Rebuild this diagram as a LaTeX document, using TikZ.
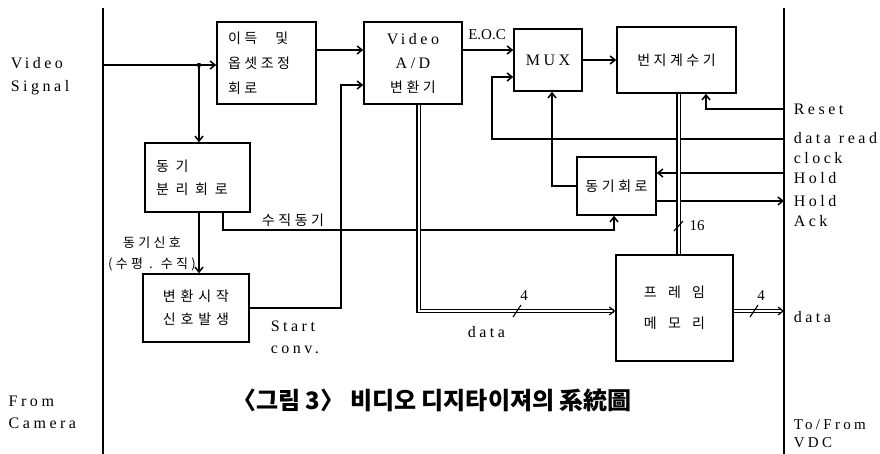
\documentclass[tikz,border=0pt]{standalone}
\usepackage{fontspec}
\setmainfont{Liberation Serif}
\newfontfamily\lat{Liberation Serif}[LetterSpace=22]
\newfontfamily\kr{Noto Sans CJK KR}[LetterSpace=25]
\newfontfamily\krw{Noto Sans CJK KR}[LetterSpace=35]
\newfontfamily\krx{Noto Sans CJK KR}[LetterSpace=48]
\newfontfamily\krww{Noto Sans CJK KR}[LetterSpace=80]
\newfontfamily\krcap{Noto Sans CJK KR}
\usetikzlibrary{arrows.meta,calc}
\begin{document}
\begin{tikzpicture}[x=1pt,y=-1pt,line width=1.5pt,
  arr/.style={-{Straight Barb[length=5pt,width=8pt]}},
  box/.style={draw,inner sep=0pt,align=center},
  bus/.style={double distance=2pt,line width=1.2pt},
  lt/.style={font=\lat\fontsize{16}{21}\selectfont,inner sep=0pt,align=left},
  kt/.style={font=\kr\fontsize{14}{22}\selectfont,inner sep=0pt,align=center},
  slash/.style={line width=1.1pt}]
\useasboundingbox (0,0) rectangle (880,454);
% side rails
\coordinate (Lt) at (103,8); \coordinate (Lb) at (103,454);
\coordinate (Rt) at (784,8); \coordinate (Rb) at (784,454);
\draw (Lt) -- (Lb);
\draw (Rt) -- (Rb);
% boxes
\node[box,minimum width=99pt,minimum height=82pt,text width=77pt,align=left,font=\kr\fontsize{14}{25}\selectfont] (gain) at (266.5,63) {이득\hspace{18pt}및\\옵셋조정\\회로};
\node[box,minimum width=98pt,minimum height=82pt,font=\fontsize{16}{24}\selectfont] (ad) at (413,63) {{\lat Video}\\{\lat A/D}\\{\kr\fontsize{14}{24}\selectfont 변환기}};
\node[box,minimum width=68pt,minimum height=62pt,font=\lat\fontsize{16}{18}\selectfont] (mux) at (548,60) {MUX};
\node[box,kt,minimum width=119pt,minimum height=66pt] (cnt) at (676.5,60) {번지계수기};
\node[box,minimum width=105pt,minimum height=69pt,text width=83pt,align=left,font=\krx\fontsize{14}{23}\selectfont] (sep) at (197.5,177.5) {동기\\분리회로};
\node[box,minimum width=106pt,minimum height=68pt,font=\krw\fontsize{14}{23}\selectfont] (start) at (196,308) {변환시작\\신호발생};
\node[box,kt,minimum width=79pt,minimum height=58pt] (sync) at (616.5,186) {동기회로};
\node[box,minimum width=117pt,minimum height=106pt,font=\krww\fontsize{14}{31}\selectfont] (fm) at (674.5,308) {프레임\\메모리};
% input
\coordinate (vin) at (103,65);
\coordinate (j) at (199,65);
\draw[arr] (vin) -- (gain.west |- vin);
\fill (j) circle (2.2pt);
\draw[arr] (j) -- (sep.north -| j);
\draw[arr] (sep.south -| j) -- (start.north -| j);
% gain -> A/D
\draw[arr] (gain.east |- 0,50) -- (ad.west |- 0,50);
% start conv
\draw[arr] (start.east |- 0,308) -| (341,85) -- (ad.west |- 0,85);
% EOC
\draw[arr] (ad.east |- 0,50) -- (mux.west |- 0,50);
\node[font=\fontsize{15}{16}\selectfont,inner sep=0pt] (eoc) at (487,35) {E.O.C};
% data read clock
\coordinate (drc) at (784,139);
\draw[arr] (drc) -| (492,77) -- (mux.west |- 0,77);
% mux -> counter
\draw[arr] (mux.east |- 0,60) -- (cnt.west |- 0,60);
% sync -> mux
\draw[arr] (sync.west) -| ([xshift=4pt]mux.south);
% reset
\coordinate (rst) at (784,109);
\draw[arr] (rst) -| ([xshift=29.5pt]cnt.south);
% hold / hold ack
\coordinate (hold) at (784,173);
\coordinate (hack) at (784,201);
\draw[arr] (hold) -- (sync.east |- hold);
\draw[arr] (sync.east |- hack) -- (hack);
% vertical sync
\draw[arr] (sep.south -| 223,0) |- (614,230) -- (sync.south -| 614,0);
\node[kt] (vs) at (293,220) {수직동기};
% data bus A/D -> frame memory
\coordinate (fin) at (616,311);
\draw[bus,arr] (ad.south -| 418.5,0) |- (fm.west |- fin);
\draw[slash] (513,317) -- (521,305);
\node[font=\fontsize{15}{16}\selectfont,inner sep=0pt] (n4a) at (524,296) {4};
% counter -> frame memory (16)
\draw[bus] (cnt.south -| 678.5,0) -- (fm.north -| 678.5,0);
\draw[slash] (674,231) -- (683,221);
\node[font=\fontsize{15}{16}\selectfont,inner sep=0pt] (n16) at (697,226) {16};
% frame memory -> data out
\coordinate (dout) at (784,311);
\draw[bus,arr] (fm.east |- dout) -- (dout);
\draw[slash] (750,317) -- (758,305);
\node[font=\fontsize{15}{16}\selectfont,inner sep=0pt] (n4b) at (761,296) {4};
% labels
\node[lt,anchor=west,font=\lat\fontsize{16}{23}\selectfont] (vsig) at (10,76) {Video\\Signal};
\node[lt,anchor=west,font=\lat\fontsize{16}{22}\selectfont] (fcam) at (8,412) {From\\Camera};
\node[lt,anchor=west,font=\lat\fontsize{15}{18}\selectfont] (vdc) at (793,434) {To/From\\VDC};
\node[lt,anchor=west] (lrst) at (793,109) {Reset};
\node[lt,anchor=west,font=\lat\fontsize{16}{20}\selectfont] (ldrc) at (793,148) {data\enspace read\\clock};
\node[lt,anchor=west] (lhold) at (793,178) {Hold};
\node[lt,anchor=west,font=\lat\fontsize{16}{20}\selectfont] (lhack) at (793,211) {Hold\\Ack};
\node[lt,anchor=west] (ldata) at (793,317) {data};
\node[lt,anchor=west,font=\lat\fontsize{16}{22}\selectfont] (sconv) at (270,337) {Start\\conv.};
\node[lt,anchor=west] (ldbus) at (467,332) {data};
\node[kt,font=\kr\fontsize{13}{21}\selectfont] (ss) at (152,254) {동기신호\\(수평 . 수직)};
% caption
\node[font=\krcap\bfseries\fontsize{24}{26}\selectfont,inner sep=0pt] (cap) at (432,400) {〈그림 3〉 비디오 디지타이져의 系統圖};
\end{tikzpicture}
\end{document}
